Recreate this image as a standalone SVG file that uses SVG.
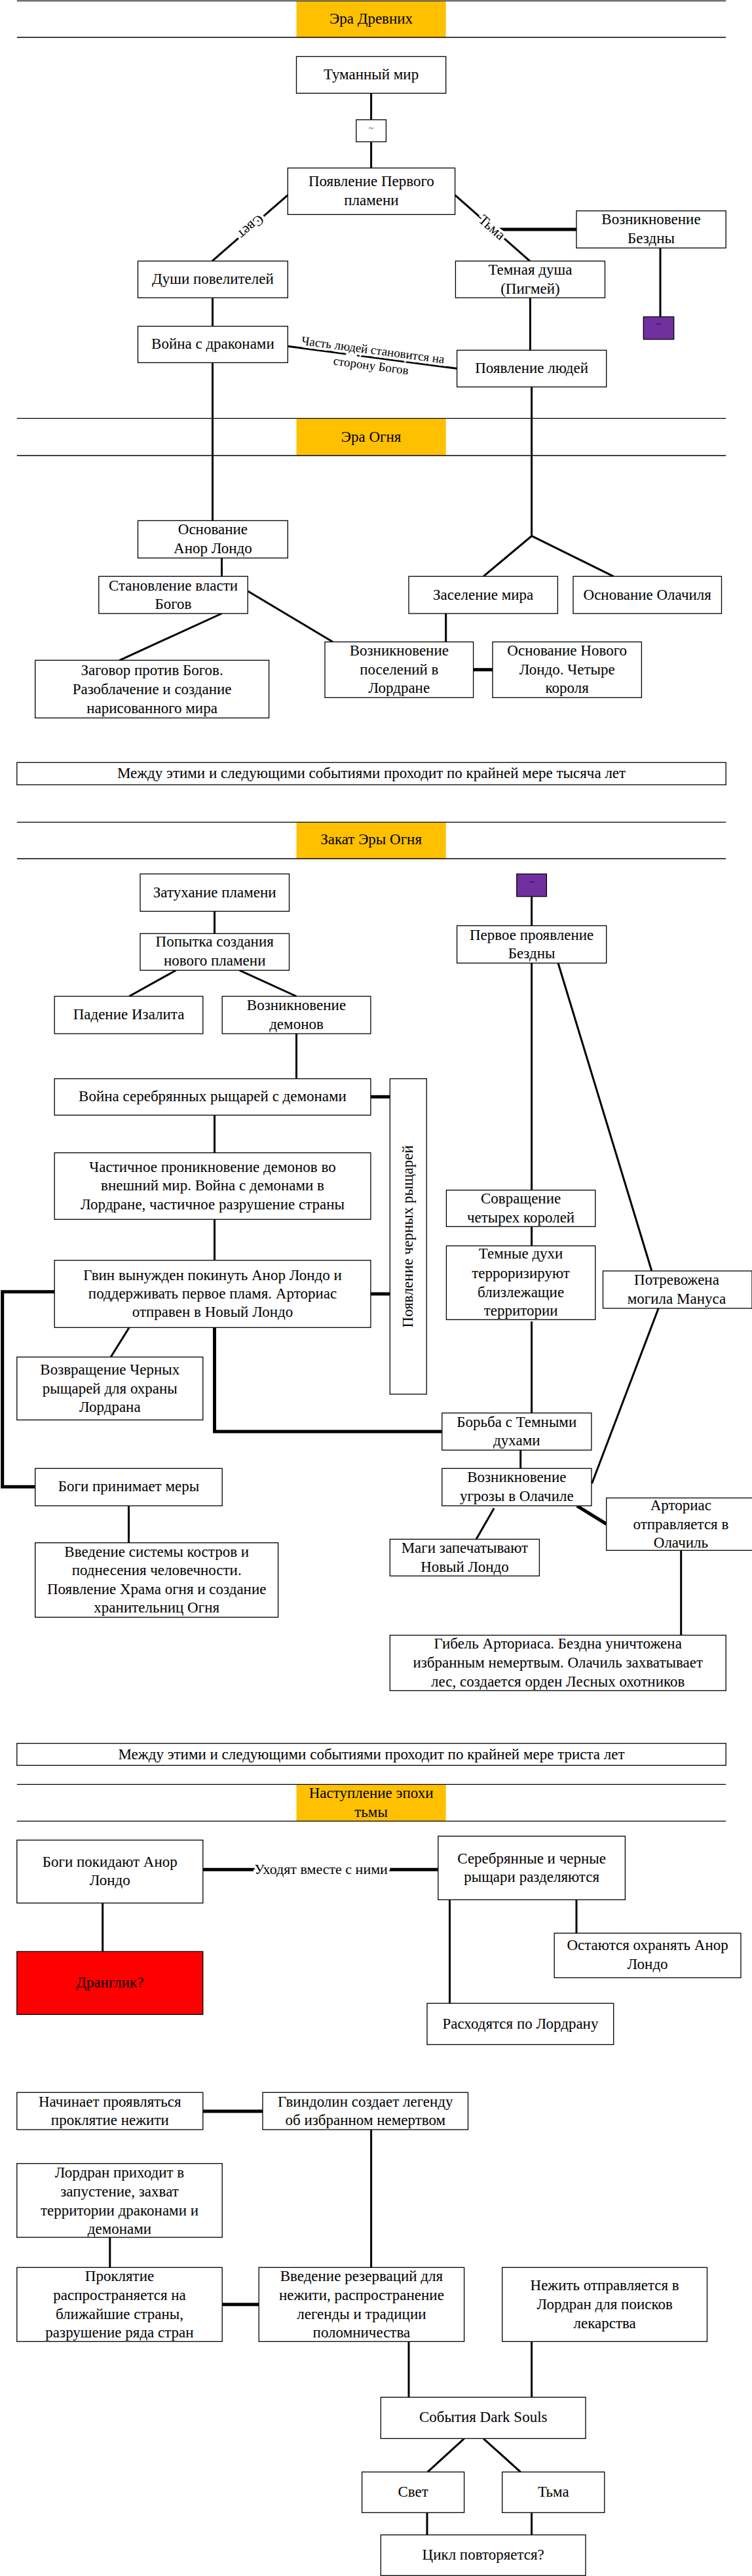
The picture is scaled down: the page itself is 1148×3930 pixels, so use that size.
<svg xmlns="http://www.w3.org/2000/svg" width="1148" height="3930" viewBox="0 0 1148 3930">
<style>
.bg{fill:#fff}
.b{fill:#fff;stroke:#000;stroke-width:1.3}
.h{fill:#FFC000}
.hl{stroke:#000;stroke-width:1.3}
.t{font-family:"Liberation Serif","Times New Roman",serif;font-size:23px;text-anchor:middle;fill:#000}
.s{font-family:"Liberation Serif","Times New Roman",serif;font-size:13px;text-anchor:middle;fill:#000}
.c{stroke:#000;stroke-width:3;fill:none}
.k{stroke:#000;stroke-width:5;fill:none}
.lb{font-family:"Liberation Serif","Times New Roman",serif;font-size:22px;text-anchor:middle;fill:#000;stroke:#fff;stroke-width:8;paint-order:stroke}
.lb2{font-family:"Liberation Serif","Times New Roman",serif;font-size:19px;text-anchor:middle;fill:#000;stroke:#fff;stroke-width:8;paint-order:stroke}
</style>
<rect class="bg" x="0" y="0" width="1148" height="3930"/>

<g id="headers">
<g id="h1"><rect class="h" x="452.5" y="1.3" width="228.2" height="55.7"/><line class="hl" x1="25.8" y1="1.3" x2="1108.2" y2="1.3"/><line class="hl" x1="25.8" y1="57" x2="1108.2" y2="57"/><text class="t" x="566.6" y="36">Эра Древних</text></g>
<g id="h2"><rect class="h" x="452.5" y="638.3" width="228.2" height="56.7"/><line class="hl" x1="25.8" y1="638.3" x2="1108.2" y2="638.3"/><line class="hl" x1="25.8" y1="695" x2="1108.2" y2="695"/><text class="t" x="566.6" y="674">Эра Огня</text></g>
<g id="h3"><rect class="h" x="452.5" y="1254.3" width="228.2" height="55.7"/><line class="hl" x1="25.8" y1="1254.3" x2="1108.2" y2="1254.3"/><line class="hl" x1="25.8" y1="1310" x2="1108.2" y2="1310"/><text class="t" x="566.6" y="1288">Закат Эры Огня</text></g>
<g id="h4"><rect class="h" x="452.5" y="2722.3" width="228.2" height="56"/><line class="hl" x1="25.8" y1="2722.3" x2="1108.2" y2="2722.3"/><line class="hl" x1="25.8" y1="2778.3" x2="1108.2" y2="2778.3"/><text class="t" x="566.6" y="2743">Наступление эпохи</text><text class="t" x="566.6" y="2772">тьмы</text></g>
</g>

<g id="connectors">
<line class="c" x1="566.6" y1="142.3" x2="566.6" y2="182.7"/>
<line class="c" x1="566.6" y1="216.3" x2="566.6" y2="256.3"/>
<line class="c" x1="439.3" y1="297.7" x2="323.8" y2="398.3"/>
<line class="c" x1="694.6" y1="297.7" x2="809" y2="398.3"/>
<line class="k" x1="762" y1="350" x2="880" y2="350"/>
<line class="c" x1="1008" y1="378.3" x2="1008" y2="483.3"/>
<line class="c" x1="324.5" y1="454.3" x2="324.5" y2="497.7"/>
<line class="c" x1="324.5" y1="553.3" x2="324.5" y2="794.3"/>
<line class="c" x1="439.3" y1="528.3" x2="697.6" y2="562.3" stroke-width="1.5"/>
<line class="c" x1="809.4" y1="454.3" x2="809.4" y2="534.3"/>
<polyline class="c" points="811.6,590.3 811.6,817.7 738,879.3"/>
<line class="c" x1="811.6" y1="817.7" x2="936.7" y2="879.3"/>
<line class="c" x1="338.5" y1="851.3" x2="338.5" y2="879.3"/>
<line class="c" x1="338.5" y1="936" x2="182.5" y2="1007.3"/>
<line class="c" x1="378.2" y1="901.7" x2="508" y2="979.3"/>
<line class="c" x1="680.7" y1="936" x2="680.7" y2="979.3"/>
<line class="k" x1="722.6" y1="1021.7" x2="752" y2="1021.7"/>
<line class="c" x1="327.5" y1="1390.3" x2="327.5" y2="1424.3"/>
<line class="c" x1="268.6" y1="1480.3" x2="197.2" y2="1520"/>
<line class="c" x1="365.7" y1="1480.3" x2="452.5" y2="1520"/>
<line class="c" x1="452.5" y1="1577" x2="452.5" y2="1645.7"/>
<line class="c" x1="811.6" y1="1367.7" x2="811.6" y2="1412.3"/>
<line class="c" x1="811.6" y1="1469.3" x2="811.6" y2="1815.7"/>
<line class="c" x1="852" y1="1469.3" x2="994.9" y2="1939"/>
<line class="k" x1="565.9" y1="1673.3" x2="595.3" y2="1673.3"/>
<line class="c" x1="327.5" y1="1701.3" x2="327.5" y2="1758.7"/>
<line class="c" x1="327.5" y1="1860.3" x2="327.5" y2="1922.7"/>
<line class="k" x1="565.9" y1="1974" x2="595.3" y2="1974"/>
<line class="c" x1="811.6" y1="1871.3" x2="811.6" y2="1900.7"/>
<line class="c" x1="811.6" y1="2016" x2="811.6" y2="2155.7"/>
<line class="c" x1="1005.2" y1="1996" x2="903.6" y2="2263.3"/>
<polyline class="k" points="83.2,1970.7 3.7,1970.7 3.7,2268.3 53.7,2268.3"/>
<line class="c" x1="197.2" y1="2025.3" x2="169.2" y2="2070.3"/>
<polyline class="k" points="327.5,2025.3 327.5,2184 674.8,2184"/>
<line class="c" x1="794.7" y1="2212.3" x2="794.7" y2="2240.3"/>
<line class="c" x1="196.5" y1="2297.3" x2="196.5" y2="2353.7"/>
<line class="c" x1="754.2" y1="2301" x2="727" y2="2348.3"/>
<line class="k" x1="880.8" y1="2297.3" x2="925.7" y2="2325"/>
<line class="c" x1="1039.7" y1="2365.3" x2="1039.7" y2="2494.7"/>
<line class="k" x1="309.8" y1="2852.3" x2="668.9" y2="2852.3"/>
<line class="c" x1="156.7" y1="2903.3" x2="156.7" y2="2977.3"/>
<line class="c" x1="686.5" y1="2898.3" x2="686.5" y2="3056.3"/>
<line class="c" x1="880" y1="2898.3" x2="880" y2="2949.3"/>
<line class="k" x1="309.8" y1="3221" x2="401" y2="3221"/>
<line class="c" x1="566.6" y1="3249" x2="566.6" y2="3459.3"/>
<line class="c" x1="167.8" y1="3413.3" x2="167.8" y2="3459.3"/>
<line class="k" x1="339.2" y1="3515.7" x2="395.2" y2="3515.7"/>
<line class="c" x1="624" y1="3572.3" x2="624" y2="3657.3"/>
<line class="c" x1="811.6" y1="3572.3" x2="811.6" y2="3657.3"/>
<line class="c" x1="708.6" y1="3720.3" x2="652.7" y2="3771.3"/>
<line class="c" x1="738" y1="3720.3" x2="794.7" y2="3771.3"/>
<line class="c" x1="652" y1="3833.3" x2="652" y2="3867.3"/>
<line class="c" x1="811.6" y1="3833.3" x2="811.6" y2="3867.3"/>
<text class="lb" transform="translate(383,346) rotate(139)" y="7">Свет</text>
<text class="lb" transform="translate(751,347) rotate(41.3)" y="7">Тьма</text>
<g transform="translate(568,545) rotate(7.5)"><text class="lb2" y="-5">Часть людей становится на</text><text class="lb2" y="19">сторону Богов</text></g>
<text class="lb" x="490" y="2859">Уходят вместе с ними</text>
</g>

<g id="n-tuman"><rect class="b" x="452.5" y="86.3" width="228.2" height="56"/><text class="t" x="566.6" y="121">Туманный мир</text></g>
<g id="n-sq1"><rect class="b" x="543.8" y="182.7" width="45.6" height="33.6"/><text class="s" x="566.6" y="200">~</text></g>
<g id="n-plamya"><rect class="b" x="439.3" y="256.3" width="255.3" height="71"/><text class="t" x="566.9" y="284">Появление Первого</text><text class="t" x="566.9" y="313">пламени</text></g>
<g id="n-bezdna"><rect class="b" x="880" y="321.7" width="228.2" height="56.6"/><text class="t" x="994" y="342">Возникновение</text><text class="t" x="994" y="371">Бездны</text></g>
<g id="n-sq2"><rect x="982.3" y="483.3" width="46.4" height="34.4" fill="#7030A0" stroke="#000" stroke-width="1.3"/><text class="s" x="1005.5" y="499">~</text></g>
<g id="n-dushi"><rect class="b" x="210.5" y="398.3" width="228.8" height="56"/><text class="t" x="324.9" y="433">Души повелителей</text></g>
<g id="n-temdusha"><rect class="b" x="695.4" y="398.3" width="228.1" height="56"/><text class="t" x="809.4" y="419">Темная душа</text><text class="t" x="809.4" y="448">(Пигмей)</text></g>
<g id="n-voina"><rect class="b" x="210.5" y="497.7" width="228.8" height="55.6"/><text class="t" x="324.9" y="532">Война с драконами</text></g>
<g id="n-lyudi"><rect class="b" x="697.6" y="534.3" width="228.1" height="56"/><text class="t" x="811.6" y="569">Появление людей</text></g>
<g id="n-anor"><rect class="b" x="210.5" y="794.3" width="228.8" height="57"/><text class="t" x="324.9" y="815">Основание</text><text class="t" x="324.9" y="844">Анор Лондо</text></g>
<g id="n-vlast"><rect class="b" x="150.8" y="879.3" width="227.4" height="56.7"/><text class="t" x="264.5" y="901">Становление власти</text><text class="t" x="264.5" y="929">Богов</text></g>
<g id="n-zasel"><rect class="b" x="624" y="879.3" width="227.4" height="56.7"/><text class="t" x="737.7" y="915">Заселение мира</text></g>
<g id="n-olachil"><rect class="b" x="875" y="879.3" width="226.5" height="56.7"/><text class="t" x="988.2" y="915">Основание Олачиля</text></g>
<g id="n-zagovor"><rect class="b" x="53.7" y="1007.3" width="356.9" height="88"/><text class="t" x="232.1" y="1030">Заговор против Богов.</text><text class="t" x="232.1" y="1059">Разоблачение и создание</text><text class="t" x="232.1" y="1088">нарисованного мира</text></g>
<g id="n-poselen"><rect class="b" x="496" y="979.3" width="226.6" height="85"/><text class="t" x="609.3" y="1000">Возникновение</text><text class="t" x="609.3" y="1029">поселений в</text><text class="t" x="609.3" y="1057">Лордране</text></g>
<g id="n-novlondo"><rect class="b" x="752" y="979.3" width="227.4" height="85"/><text class="t" x="865.7" y="1000">Основание Нового</text><text class="t" x="865.7" y="1029">Лондо. Четыре</text><text class="t" x="865.7" y="1057">короля</text></g>
<g id="n-gap1"><rect class="b" x="25.8" y="1163.3" width="1082.4" height="34"/><text class="t" x="567" y="1187">Между этими и следующими событиями проходит по крайней мере тысяча лет</text></g>

<g id="n-zatuh"><rect class="b" x="214" y="1333.3" width="227.5" height="57"/><text class="t" x="327.7" y="1369">Затухание пламени</text></g>
<g id="n-popytka"><rect class="b" x="214" y="1424.3" width="227.5" height="56"/><text class="t" x="327.7" y="1444">Попытка создания</text><text class="t" x="327.7" y="1473">нового пламени</text></g>
<g id="n-izalit"><rect class="b" x="83.2" y="1520" width="226.6" height="57"/><text class="t" x="196.5" y="1555">Падение Изалита</text></g>
<g id="n-demony"><rect class="b" x="339.2" y="1520" width="226.7" height="57"/><text class="t" x="452.5" y="1541">Возникновение</text><text class="t" x="452.5" y="1570">демонов</text></g>
<g id="n-sq3"><rect x="788.8" y="1333.3" width="45.6" height="34.4" fill="#7030A0" stroke="#000" stroke-width="1.3"/><text class="s" x="811.6" y="1350">~</text></g>
<g id="n-pervoe"><rect class="b" x="697.6" y="1412.3" width="228.1" height="57"/><text class="t" x="811.6" y="1434">Первое проявление</text><text class="t" x="811.6" y="1462">Бездны</text></g>
<g id="n-voinaser"><rect class="b" x="83.2" y="1645.7" width="482.7" height="55.6"/><text class="t" x="324.5" y="1680">Война серебрянных рыщарей с демонами</text></g>
<g id="n-chernye"><rect class="b" x="595.3" y="1645.7" width="55.9" height="481.3"/><text class="t" transform="translate(630,1886.3) rotate(-90)">Появление черных рыщарей</text></g>
<g id="n-chastich"><rect class="b" x="83.2" y="1758.7" width="482.7" height="101.6"/><text class="t" x="324.5" y="1788">Частичное проникновение демонов во</text><text class="t" x="324.5" y="1816">внешний мир. Война с демонами в</text><text class="t" x="324.5" y="1845">Лордране, частичное разрушение страны</text></g>
<g id="n-gvin"><rect class="b" x="83.2" y="1922.7" width="482.7" height="102.6"/><text class="t" x="324.5" y="1953">Гвин вынужден покинуть Анор Лондо и</text><text class="t" x="324.5" y="1981">поддерживать первое пламя. Арториас</text><text class="t" x="324.5" y="2009">отправен в Новый Лондо</text></g>
<g id="n-sovrash"><rect class="b" x="681.4" y="1815.7" width="227.4" height="55.6"/><text class="t" x="795.1" y="1836">Совращение</text><text class="t" x="795.1" y="1865">четырех королей</text></g>
<g id="n-duhi"><rect class="b" x="681.4" y="1900.7" width="227.4" height="112.6"/><text class="t" x="795.1" y="1920">Темные духи</text><text class="t" x="795.1" y="1950">терроризируют</text><text class="t" x="795.1" y="1979">близлежащие</text><text class="t" x="795.1" y="2007">территории</text></g>
<g id="n-manus"><rect class="b" x="920.5" y="1939" width="227.5" height="57"/><text class="t" x="1033" y="1960">Потревожена</text><text class="t" x="1033" y="1989">могила Мануса</text></g>
<g id="n-vozvrash"><rect class="b" x="25.8" y="2070.3" width="284" height="96"/><text class="t" x="167.8" y="2097">Возвращение Черных</text><text class="t" x="167.8" y="2126">рыщарей для охраны</text><text class="t" x="167.8" y="2154">Лордрана</text></g>
<g id="n-borba"><rect class="b" x="674.8" y="2155.7" width="228.1" height="56.6"/><text class="t" x="788.8" y="2177">Борьба с Темными</text><text class="t" x="788.8" y="2205">духами</text></g>
<g id="n-ugroza"><rect class="b" x="674.8" y="2240.3" width="228.1" height="57"/><text class="t" x="788.8" y="2261">Возникновение</text><text class="t" x="788.8" y="2290">угрозы в Олачиле</text></g>
<g id="n-bogimery"><rect class="b" x="53.7" y="2240.3" width="285.5" height="57"/><text class="t" x="196.5" y="2275">Боги принимает меры</text></g>
<g id="n-kostry"><rect class="b" x="53.7" y="2353.7" width="370.9" height="113.6"/><text class="t" x="239.2" y="2375">Введение системы костров и</text><text class="t" x="239.2" y="2403">поднесения человечности.</text><text class="t" x="239.2" y="2432">Появление Храма огня и создание</text><text class="t" x="239.2" y="2460">хранительниц Огня</text></g>
<g id="n-magi"><rect class="b" x="595.3" y="2348.3" width="228.1" height="56"/><text class="t" x="709.4" y="2369">Маги запечатывают</text><text class="t" x="709.4" y="2398">Новый Лондо</text></g>
<g id="n-artorias"><rect class="b" x="925.7" y="2285.3" width="227.3" height="80"/><text class="t" x="1039.4" y="2304">Арториас</text><text class="t" x="1039.4" y="2333">отправляется в</text><text class="t" x="1039.4" y="2361">Олачиль</text></g>
<g id="n-gibel"><rect class="b" x="595.3" y="2494.7" width="512.9" height="84.6"/><text class="t" x="851.7" y="2515">Гибель Арториаса. Бездна уничтожена</text><text class="t" x="851.7" y="2544">избранным немертвым. Олачиль захватывает</text><text class="t" x="851.7" y="2573">лес, создается орден Лесных охотников</text></g>
<g id="n-gap2"><rect class="b" x="25.8" y="2659.7" width="1082.4" height="33.6"/><text class="t" x="567" y="2684">Между этими и следующими событиями проходит по крайней мере триста лет</text></g>

<g id="n-bogipokid"><rect class="b" x="25.8" y="2807.3" width="284" height="96"/><text class="t" x="167.8" y="2848">Боги покидают Анор</text><text class="t" x="167.8" y="2876">Лондо</text></g>
<g id="n-serebr"><rect class="b" x="668.9" y="2801.3" width="285.5" height="97"/><text class="t" x="811.6" y="2843">Серебрянные и черные</text><text class="t" x="811.6" y="2871">рыщари разделяются</text></g>
<g id="n-dranglik"><rect x="25.8" y="2977.3" width="284" height="96" fill="#FF0000" stroke="#000" stroke-width="1.3"/><text class="t" x="167.8" y="3032">Дранглик?</text></g>
<g id="n-ostayutsya"><rect class="b" x="846.2" y="2949.3" width="284.8" height="68"/><text class="t" x="988.6" y="2975">Остаются охранять Анор</text><text class="t" x="988.6" y="3004">Лондо</text></g>
<g id="n-rashod"><rect class="b" x="652" y="3056.3" width="284.7" height="63"/><text class="t" x="794.4" y="3095">Расходятся по Лордрану</text></g>
<g id="n-proklyatie1"><rect class="b" x="25.8" y="3192.3" width="284" height="56.7"/><text class="t" x="167.8" y="3214">Начинает проявляться</text><text class="t" x="167.8" y="3242">проклятие нежити</text></g>
<g id="n-gvindolin"><rect class="b" x="401" y="3192.3" width="313.5" height="56.7"/><text class="t" x="557.8" y="3214">Гвиндолин создает легенду</text><text class="t" x="557.8" y="3242">об избранном немертвом</text></g>
<g id="n-lordran"><rect class="b" x="25.8" y="3300.7" width="313.4" height="112.6"/><text class="t" x="182.5" y="3322">Лордран приходит в</text><text class="t" x="182.5" y="3351">запустение, захват</text><text class="t" x="182.5" y="3380">территории драконами и</text><text class="t" x="182.5" y="3408">демонами</text></g>
<g id="n-proklyatie2"><rect class="b" x="25.8" y="3459.3" width="313.4" height="113"/><text class="t" x="182.5" y="3480">Проклятие</text><text class="t" x="182.5" y="3509">распространяется на</text><text class="t" x="182.5" y="3538">ближайшие страны,</text><text class="t" x="182.5" y="3566">разрушение ряда стран</text></g>
<g id="n-rezerv"><rect class="b" x="395.2" y="3459.3" width="313.4" height="113"/><text class="t" x="551.9" y="3480">Введение резерваций для</text><text class="t" x="551.9" y="3509">нежити, распространение</text><text class="t" x="551.9" y="3538">легенды и традиции</text><text class="t" x="551.9" y="3566">поломничества</text></g>
<g id="n-nezhit"><rect class="b" x="766.7" y="3459.3" width="312.8" height="113"/><text class="t" x="923.1" y="3494">Нежить отправляется в</text><text class="t" x="923.1" y="3523">Лордран для поисков</text><text class="t" x="923.1" y="3552">лекарства</text></g>
<g id="n-sobytiya"><rect class="b" x="581.3" y="3657.3" width="312.7" height="63"/><text class="t" x="737.7" y="3695">События Dark Souls</text></g>
<g id="n-svet"><rect class="b" x="552.6" y="3771.3" width="156" height="62"/><text class="t" x="630.6" y="3809">Свет</text></g>
<g id="n-tma"><rect class="b" x="766.7" y="3771.3" width="156.1" height="62"/><text class="t" x="844.8" y="3809">Тьма</text></g>
<g id="n-tsikl"><rect class="b" x="581.3" y="3867.3" width="312.7" height="62"/><text class="t" x="737.7" y="3905">Цикл повторяется?</text></g>
</svg>
